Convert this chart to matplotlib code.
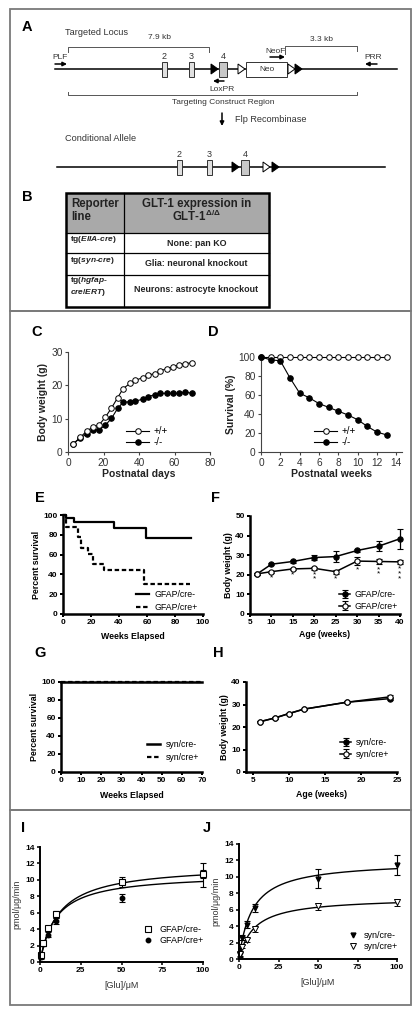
import numpy as np
import matplotlib
matplotlib.use('Agg')
import matplotlib.pyplot as plt
from matplotlib.patches import Rectangle, Polygon
from matplotlib.lines import Line2D

plt.rcParams['font.family'] = ['Liberation Sans', 'DejaVu Sans']
plt.rcParams['mathtext.fontset'] = 'custom'
plt.rcParams['mathtext.rm'] = 'Liberation Sans:bold'
plt.rcParams['mathtext.it'] = 'Liberation Sans:italic:bold'
plt.rcParams['mathtext.bf'] = 'Liberation Sans:bold'

# ---------------- data ----------------
# C: body weight (g) vs postnatal days
c_days = [3, 7, 10.5, 14, 17.5, 21, 24.5, 28, 31, 35, 38, 42, 45, 49, 52, 55.5, 59, 62.5, 66, 70]
c_wt = [2.5, 4.4, 6.3, 7.4, 8.1, 10.4, 13.2, 16.3, 19.0, 20.6, 21.5, 22.3, 23.1, 23.5, 24.3,
        25.0, 25.5, 26.1, 26.5, 26.8]
c_ko = [2.5, 4.2, 5.4, 6.5, 6.7, 8.0, 10.1, 13.1, 14.9, 15.1, 15.3, 15.8, 16.6, 17.2, 17.6,
        17.6, 17.6, 17.6, 18.0, 17.6]

# D: survival (%) vs postnatal weeks
d_weeks = [0, 1, 2, 3, 4, 5, 6, 7, 8, 9, 10, 11, 12, 13]
d_wt = [100, 100, 100, 100, 100, 100, 100, 100, 100, 100, 100, 100, 100, 100]
d_ko = [100, 97, 96, 78, 62, 57, 51, 47, 43, 39, 34, 27, 21, 18]

# E: Kaplan-Meier, GFAP/cre
e_neg_t = [0, 2.4, 8, 36.7, 59.5, 91.4]
e_neg_s = [100, 96.6, 92.6, 86.5, 76.4, 76.4]
e_pos_t = [0, 2, 11, 13, 18, 21.5, 29.5, 57.6, 91]
e_pos_s = [100, 88, 78, 67, 61, 50.5, 44.4, 30, 30]

# F: body weight, GFAP/cre
f_age = [6.7, 10, 15, 20, 25, 30, 35, 40]
f_neg = [20.5, 25.4, 26.8, 28.8, 29.3, 32.4, 34.6, 38.4]
f_neg_err = [0.5, 0.6, 0.6, 1.2, 3.0, 1.0, 2.5, 5.0]
f_pos = [20.5, 21.6, 23.0, 23.3, 21.6, 27.0, 26.8, 26.6]
f_pos_err = [0.5, 0.5, 0.5, 0.6, 1.0, 2.0, 1.5, 1.0]
f_stars = [0, 1, 1, 2, 1, 1, 2, 3]

# G: Kaplan-Meier, syn/cre
g_neg_t = [0, 70]
g_neg_s = [100, 100]
g_pos_t = [0, 70]
g_pos_s = [100, 100]

# H: body weight, syn/cre
h_age = [6, 8, 10, 12, 18, 24]
h_neg = [22.4, 24.0, 26.0, 27.9, 31.0, 32.6]
h_pos = [22.4, 24.0, 26.0, 27.9, 31.0, 33.4]
h_err = [0.3, 0.3, 0.3, 0.3, 0.4, 0.7]

# I: glutamate uptake, GFAP/cre
glu = [0.5, 2, 5, 10, 50, 100]
i_neg = [0.8, 2.3, 4.1, 5.8, 9.75, 10.7]
i_neg_err = [0.2, 0.3, 0.3, 0.4, 0.6, 0.5]
i_pos = [0.6, 2.2, 3.3, 5.0, 7.8, 10.6]
i_pos_err = [0.2, 0.3, 0.3, 0.4, 0.5, 1.5]
i_fit = {'GFAP/cre-': (11.83, 11.6), 'GFAP/cre+': (10.76, 9.77)}  # Vmax, Km

# J: glutamate uptake, syn/cre
j_neg = [0.5, 2.6, 4.2, 6.2, 9.8, 11.46]
j_neg_err = [0.3, 0.3, 0.4, 0.5, 1.2, 1.2]
j_pos = [0.6, 1.5, 2.3, 3.6, 6.4, 6.9]
j_pos_err = [0.2, 0.2, 0.2, 0.3, 0.4, 0.4]
j_fit = {'syn/cre-': (11.93, 8.46), 'syn/cre+': (7.5, 9.53)}

# table B
tbl_rows = [(r'tg($\mathit{EIIA}$-$\mathit{cre}$)', None, 'None: pan KO'),
            (r'tg($\mathit{syn}$-$\mathit{cre}$)', None, 'Glia: neuronal knockout'),
            (r'tg($\mathit{hgfap}$-', r'$\mathit{cre/ERT}$)', 'Neurons: astrocyte knockout')]

W, H = 420, 1015
fig = plt.figure(figsize=(W / 100, H / 100), dpi=100)


def pax(l, t, r, b):
    return fig.add_axes([l / W, 1 - b / H, (r - l) / W, (b - t) / H])


def fpt(x, y):
    return (x / W, 1 - y / H)


ax0 = fig.add_axes([0, 0, 1, 1])
ax0.set_xlim(0, W)
ax0.set_ylim(H, 0)
ax0.axis('off')

# frames
for (l, t, r, b) in [(10, 9, 411, 311), (10, 311, 411, 810), (10, 810, 411, 1005)]:
    ax0.add_patch(Rectangle((l, t), r - l, b - t, fill=False, ec='#7a7a7a', lw=1.3))

# panel letters
for lab, x, y in [('A', 27, 27), ('B', 27, 197), ('C', 37, 332), ('D', 213, 332),
                  ('E', 40, 498), ('F', 215, 498), ('G', 40, 653), ('H', 218, 653),
                  ('I', 23, 828), ('J', 207, 828)]:
    ax0.text(x, y, lab, fontsize=10.5, fontweight='bold', ha='center', va='center')

# ---------------- panel A: schematic ----------------
dk = '#333333'
tk = dict(fontsize=6, color=dk, ha='center', va='center')


def arrow(x0, y0, x1, y1):
    ax0.annotate('', xy=(x1, y1), xytext=(x0, y0),
                 arrowprops=dict(arrowstyle='-|>', lw=1.1, color='black',
                                 mutation_scale=6, shrinkA=0, shrinkB=0))


def tri(x, y, filled):
    ax0.add_patch(Polygon([(x, y - 5), (x, y + 5), (x + 7, y)], closed=True,
                          fc='black' if filled else 'white', ec='black', lw=0.7, zorder=3))


def exon(x, y, w, gray, label):
    ax0.add_patch(Rectangle((x, y - 7.5), w, 15, fc='#c8c8c8' if gray else '#e0e0e0',
                            ec='#333333', lw=0.7, zorder=3))
    ax0.text(x + w / 2, y - 13, label, fontsize=6.5, color=dk, ha='center', va='center')


ax0.text(65, 32, 'Targeted Locus', fontsize=6.6, color=dk, va='center')
ax0.text(160, 37, '7.9 kb', **tk)
ax0.plot([68, 68, 209, 209], [52, 47, 47, 52], color='#555555', lw=0.7)
ax0.text(322, 39, '3.3 kb', **tk)
ax0.plot([285, 285, 357, 357], [54, 46, 46, 51], color='#555555', lw=0.7)

y1 = 69
ax0.plot([55, 397], [y1, y1], color='black', lw=1.1, zorder=2)
exon(162, y1, 5, False, '2')
exon(189, y1, 5, False, '3')
tri(211, y1, True)
exon(219, y1, 8, True, '4')
tri(238, y1, False)
ax0.add_patch(Rectangle((246, y1 - 7.5), 41, 15, fc='white', ec='#333333', lw=0.7, zorder=3))
ax0.text(266.5, y1, 'Neo', **tk)
tri(288, y1, False)
tri(295, y1, True)

ax0.text(276, 51, 'NeoF', **tk)
arrow(270, 57, 285, 57)
ax0.text(60, 57, 'PLF', **tk)
arrow(55, 64, 67, 64)
ax0.text(373, 57, 'PRR', **tk)
arrow(377, 64, 365, 64)
arrow(224, 81, 213, 81)
ax0.text(222, 89, 'LoxPR', **tk)
ax0.plot([68, 68, 357, 357], [92, 95, 95, 92], color='#555555', lw=0.7)
ax0.text(223, 102, 'Targeting Construct Region', **tk)
arrow(222, 113, 222, 126)
ax0.text(235, 119, 'Flp Recombinase', fontsize=6.6, color=dk, va='center')
ax0.text(65, 138, 'Conditional Allele', fontsize=6.6, color=dk, va='center')

y2 = 167
ax0.plot([57, 385], [y2, y2], color='black', lw=1.1, zorder=2)
exon(177, y2, 5, False, '2')
exon(207, y2, 5, False, '3')
tri(232, y2, True)
exon(241, y2, 8, True, '4')
tri(263, y2, False)
tri(272, y2, True)

# ---------------- panel B: table ----------------
tl, tr, tt, tb = 66, 269, 193, 307
cx = 124
hdr_b = 233
row_lines = [253, 275]
ax0.add_patch(Rectangle((tl, tt), tr - tl, hdr_b - tt, fc='#a9a9a9', ec='none'))
ax0.add_patch(Rectangle((tl, tt), tr - tl, tb - tt, fill=False, ec='black', lw=1.8, zorder=4))
ax0.plot([cx, cx], [tt, tb], color='black', lw=0.9)
ax0.plot([tl, tr], [hdr_b, hdr_b], color='black', lw=0.9)
for yl in row_lines:
    ax0.plot([tl, tr], [yl, yl], color='black', lw=0.9)
ax0.text(71, 204, 'Reporter', fontsize=8.3, fontweight='bold', va='center', color='#222222')
ax0.text(71, 217, 'line', fontsize=8.3, fontweight='bold', va='center', color='#222222')
ax0.text(196.5, 204, 'GLT-1 expression in', fontsize=8.3, fontweight='bold', ha='center',
         va='center', color='#222222')
ax0.text(196.5, 216, r'GLT-1$^{\Delta/\Delta}$', fontsize=8.3, fontweight='bold', ha='center',
         va='center', color='#222222')
row_y = [(239, 243), (261, 264), (280, 290)]
for (l1, l2, right), (yl, yr) in zip(tbl_rows, row_y):
    ax0.text(70, yl, l1, fontsize=6.0, fontweight='bold', va='center', color='#222222')
    if l2:
        ax0.text(70, yl + 12, l2, fontsize=6.0, fontweight='bold', va='center', color='#222222')
    ax0.text(196.5, yr, right, fontsize=6.4, fontweight='bold', ha='center', va='center',
             color='#222222')


# ---------------- styles ----------------
def thin_style(ax):
    for s in ['top', 'right']:
        ax.spines[s].set_visible(False)
    for s in ['left', 'bottom']:
        ax.spines[s].set_linewidth(0.8)
        ax.spines[s].set_color('#444444')
    ax.tick_params(direction='out', length=2.5, width=0.8, labelsize=7.3, pad=1.5,
                   colors='#444444', labelcolor='#333333')


def prism(ax, lw=1.8, size=6):
    for s in ['top', 'right']:
        ax.spines[s].set_visible(False)
    for s in ['left', 'bottom']:
        ax.spines[s].set_linewidth(lw)
    ax.tick_params(direction='out', length=2.5, width=lw * 0.8, labelsize=size, pad=1.2)
    plt.setp(ax.get_xticklabels() + ax.get_yticklabels(), fontweight='bold')


def leg(ax, x, y, size, **kw):
    return ax.legend(loc='upper left', bbox_to_anchor=fpt(x, y), bbox_transform=fig.transFigure,
                     frameon=False, fontsize=size, borderpad=0, borderaxespad=0, **kw)


# ---------------- C ----------------
ax = pax(68, 352, 210, 452)
ax.plot(c_days, c_wt, '-o', color='black', lw=0.8, ms=4, mfc='white', mew=0.7, label='+/+',
        clip_on=False, zorder=3)
ax.plot(c_days, c_ko, '-o', color='black', lw=0.8, ms=4, mfc='black', mew=0.7, label='-/-',
        clip_on=False, zorder=2)
ax.set_xlim(0, 80)
ax.set_ylim(0, 30)
ax.set_xticks([0, 20, 40, 60, 80])
ax.set_yticks([0, 10, 20, 30])
thin_style(ax)
ax.set_xlabel('Postnatal days', fontsize=7.5, fontweight='bold', labelpad=1, color='#222222')
ax.set_ylabel('Body weight (g)', fontsize=7.5, fontweight='bold', labelpad=2, color='#222222')
leg(ax, 126, 426, 7, labelspacing=0.1, handlelength=2.4, handletextpad=0.4)

# ---------------- D ----------------
ax = pax(261, 357, 402, 452)
ax.plot(d_weeks, d_wt, '-o', color='black', lw=0.8, ms=4, mfc='white', mew=0.7, label='+/+',
        clip_on=False, zorder=2)
ax.plot(d_weeks, d_ko, '-o', color='black', lw=0.8, ms=4, mfc='black', mew=0.7, label='-/-',
        clip_on=False, zorder=3)
ax.set_xlim(0, 14.6)
ax.set_ylim(0, 100)
ax.set_xticks([0, 2, 4, 6, 8, 10, 12, 14])
ax.set_yticks([0, 20, 40, 60, 80, 100])
thin_style(ax)
ax.set_xlabel('Postnatal weeks', fontsize=7.5, fontweight='bold', labelpad=1, color='#222222')
ax.set_ylabel('Survival (%)', fontsize=7.5, fontweight='bold', labelpad=2, color='#222222')
leg(ax, 314, 426, 7, labelspacing=0.1, handlelength=2.4, handletextpad=0.4)

# ---------------- E ----------------
ax = pax(63, 515, 203, 614)
ax.step(e_neg_t, e_neg_s, where='post', color='black', lw=1.6, label='GFAP/cre-', clip_on=False)
ax.step(e_pos_t, e_pos_s, where='post', color='black', lw=1.6, dashes=(2, 1.2),
        label='GFAP/cre+', clip_on=False)
ax.set_xlim(0, 100)
ax.set_ylim(0, 100)
ax.set_xticks([0, 20, 40, 60, 80, 100])
ax.set_yticks([0, 20, 40, 60, 80, 100])
prism(ax)
ax.set_xlabel('Weeks Elapsed', fontsize=6.3, fontweight='bold', labelpad=4)
ax.set_ylabel('Percent survival', fontsize=6.3, fontweight='bold', labelpad=2)
leg(ax, 136, 590, 6.3, labelspacing=0.5, handlelength=1.5, handletextpad=0.6)

# ---------------- F ----------------
ax = pax(250, 516, 400, 614)
ax.errorbar(f_age, f_neg, yerr=f_neg_err, fmt='-o', color='black', lw=1.1, ms=3.8,
            mfc='black', mew=0.8, capsize=2, elinewidth=0.9, capthick=0.9,
            label='GFAP/cre-', clip_on=False)
ax.errorbar(f_age, f_pos, yerr=f_pos_err, fmt='-o', color='black', lw=1.1, ms=3.8,
            mfc='white', mew=0.8, capsize=2, elinewidth=0.9, capthick=0.9,
            label='GFAP/cre+', clip_on=False)
for x, y, e, n in zip(f_age, f_pos, f_pos_err, f_stars):
    if n:
        ax.text(x, y - e - 0.8, '\n'.join(['*'] * n), fontsize=6, ha='center', va='top',
                linespacing=0.55)
ax.set_xlim(5, 40)
ax.set_ylim(0, 50)
ax.set_xticks([5, 10, 15, 20, 25, 30, 35, 40])
ax.set_yticks([0, 10, 20, 30, 40, 50])
prism(ax)
ax.set_xlabel('Age (weeks)', fontsize=6.3, fontweight='bold', labelpad=3)
ax.set_ylabel('Body weight (g)', fontsize=6.3, fontweight='bold', labelpad=2)
leg(ax, 339, 590, 6.3, labelspacing=0.3, handlelength=1.3, handletextpad=0.5)

# ---------------- G ----------------
ax = pax(61, 682, 202, 772)
ax.step(g_pos_t, g_pos_s, where='post', color='black', lw=1.6, dashes=(2, 1.2),
        label='syn/cre+', clip_on=False)
ax.step(g_neg_t, g_neg_s, where='post', color='black', lw=1.8, label='syn/cre-',
        clip_on=False)
ax.set_xlim(0, 70)
ax.set_ylim(0, 100)
ax.set_xticks([0, 10, 20, 30, 40, 50, 60, 70])
ax.set_yticks([0, 20, 40, 60, 80, 100])
prism(ax)
ax.set_xlabel('Weeks Elapsed', fontsize=6.3, fontweight='bold', labelpad=5)
ax.set_ylabel('Percent survival', fontsize=6.3, fontweight='bold', labelpad=2)
h_, l_ = ax.get_legend_handles_labels()
leg(ax, 147, 740, 6.3, handles=h_[::-1], labels=l_[::-1], labelspacing=0.5,
    handlelength=1.5, handletextpad=0.6)

# ---------------- H ----------------
ax = pax(246, 682, 397, 772)
ax.errorbar(h_age, h_neg, yerr=h_err, fmt='-o', color='black', lw=1.1, ms=3.8, mfc='black',
            mew=0.8, capsize=2, elinewidth=0.9, label='syn/cre-', clip_on=False)
ax.errorbar(h_age, h_pos, yerr=h_err, fmt='-o', color='black', lw=1.1, ms=3.8, mfc='white',
            mew=0.8, capsize=2, elinewidth=0.9, label='syn/cre+', clip_on=False)
ax.set_xlim(4, 25)
ax.set_ylim(0, 40)
ax.set_xticks([5, 10, 15, 20, 25])
ax.set_yticks([0, 10, 20, 30, 40])
prism(ax)
ax.set_xlabel('Age (weeks)', fontsize=6.3, fontweight='bold', labelpad=4)
ax.set_ylabel('Body weight (g)', fontsize=6.3, fontweight='bold', labelpad=2)
leg(ax, 340, 738, 6.3, labelspacing=0.3, handlelength=1.3, handletextpad=0.5)

# ---------------- I ----------------
xs = np.linspace(0, 100, 300)
ax = pax(40, 847, 203, 962)
for name, (vm, km) in i_fit.items():
    ax.plot(xs, vm * xs / (km + xs), color='black', lw=1.0)
ax.errorbar(glu, i_pos, yerr=i_pos_err, fmt='o', color='black', ms=3.2, mfc='black',
            capsize=2, elinewidth=0.8, capthick=0.8, label='GFAP/cre+', clip_on=False)
ax.errorbar(glu, i_neg, yerr=i_neg_err, fmt='s', color='black', ms=4.5, mfc='white', mew=0.8,
            capsize=2, elinewidth=0.8, capthick=0.8, label='GFAP/cre-', clip_on=False)
ax.set_xlim(0, 100)
ax.set_ylim(0, 14)
ax.set_xticks([0, 25, 50, 75, 100])
ax.set_yticks([0, 2, 4, 6, 8, 10, 12, 14])
prism(ax, lw=1.4, size=6)
ax.set_xlabel('[Glu]/μM', fontsize=6.5, labelpad=5, color='#333333')
ax.set_ylabel('pmol/μg/min', fontsize=6.5, labelpad=3, color='#333333')
hs = [Line2D([], [], ls='none', marker='s', ms=4.5, mfc='white', mec='black', mew=0.8),
      Line2D([], [], ls='none', marker='o', ms=3.2, mfc='black', mec='black')]
leg(ax, 143, 925, 6.5, handles=hs, labels=['GFAP/cre-', 'GFAP/cre+'], labelspacing=0.25,
    handlelength=1.0, handletextpad=0.8)

# ---------------- J ----------------
ax = pax(239, 844, 397, 959)
for name, (vm, km) in j_fit.items():
    ax.plot(xs, vm * xs / (km + xs), color='black', lw=1.0)
ax.errorbar(glu, j_neg, yerr=j_neg_err, fmt='v', color='black', ms=3.5, mfc='black',
            capsize=2, elinewidth=0.8, capthick=0.8, label='syn/cre-', clip_on=False)
ax.errorbar(glu, j_pos, yerr=j_pos_err, fmt='v', color='black', ms=3.8, mfc='white', mew=0.7,
            capsize=2, elinewidth=0.8, capthick=0.8, label='syn/cre+', clip_on=False)
ax.set_xlim(0, 100)
ax.set_ylim(0, 14)
ax.set_xticks([0, 25, 50, 75, 100])
ax.set_yticks([0, 2, 4, 6, 8, 10, 12, 14])
prism(ax, lw=1.4, size=6)
ax.set_xlabel('[Glu]/μM', fontsize=6.5, labelpad=5, color='#333333')
ax.set_ylabel('pmol/μg/min', fontsize=6.5, labelpad=3, color='#333333')
hs = [Line2D([], [], ls='none', marker='v', ms=3.5, mfc='black', mec='black'),
      Line2D([], [], ls='none', marker='v', ms=3.8, mfc='white', mec='black', mew=0.7)]
leg(ax, 348, 931, 6.5, handles=hs, labels=['syn/cre-', 'syn/cre+'], labelspacing=0.25,
    handlelength=1.0, handletextpad=0.8)

fig.savefig('out.png', dpi=100)
